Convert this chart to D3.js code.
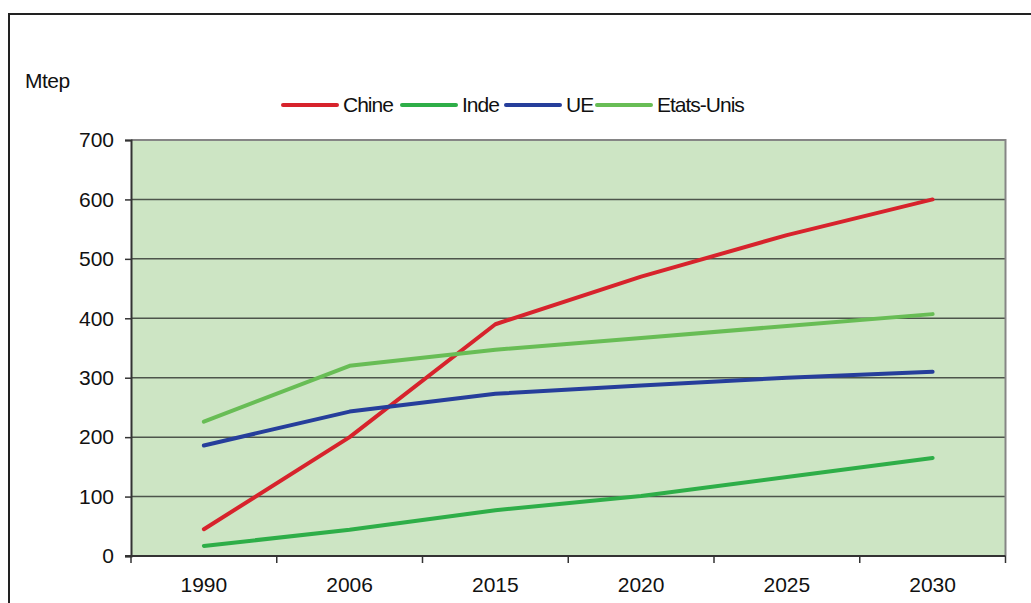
<!DOCTYPE html>
<html>
<head>
<meta charset="utf-8">
<script src="https://cdn.jsdelivr.net/npm/d3@7/dist/d3.min.js"></script>
<style>
  html, body { margin: 0; padding: 0; background: #fff; }
  svg { display: block; font-family: "Liberation Sans", Arial, sans-serif; }
</style>
</head>
<body>
<svg id="chart" width="1031" height="603"></svg>
<script>
const categories = ["1990", "2006", "2015", "2020", "2025", "2030"];
const chine = [45, 200, 390, 470, 540, 600];
const inde = [17, 44, 77, 101, 133, 165];
const ue = [186, 243, 273, 287, 300, 310];
const etatsUnis = [226, 320, 347, 367, 387, 407];
const seriesNames = ["Chine", "Inde", "UE", "Etats-Unis"];
const seriesColors = ["#d7232c", "#2eae48", "#263e9b", "#68bd55"];
const yTicks = [0, 100, 200, 300, 400, 500, 600, 700];
const yLabel = "Mtep";

(function () {
const seriesValues = [chine, inde, ue, etatsUnis];
const series = seriesNames.map((n, i) => ({ name: n, color: seriesColors[i], values: seriesValues[i] }));

const svg = d3.select("#chart");
const pLeft = 131, pRight = 1005.5, pTop = 140, pBottom = 556;
const FS = 21;

// outer frame
svg.append("rect").attr("x", 9).attr("y", 14).attr("width", 1100).attr("height", 700)
  .attr("fill", "none").attr("stroke", "#222").attr("stroke-width", 2);

const x = d3.scaleBand().domain(categories).range([pLeft, pRight]).padding(0);
const y = d3.scaleLinear().domain([0, 700]).range([pBottom, pTop]);

// plot background
svg.append("rect").attr("x", pLeft).attr("y", pTop).attr("width", pRight - pLeft).attr("height", pBottom - pTop)
  .attr("fill", "#cde5c4");

// gridlines
svg.append("g").selectAll("line").data(yTicks.filter(t => t > 0 && t < 700)).join("line")
  .attr("x1", pLeft).attr("x2", pRight)
  .attr("y1", d => y(d)).attr("y2", d => y(d))
  .attr("stroke", "#4d554b").attr("stroke-width", 1.5);

// top & right border
svg.append("path")
  .attr("d", `M${pLeft},${y(700)}H${pRight}V${pBottom}`)
  .attr("fill", "none").attr("stroke", "#858585").attr("stroke-width", 2);

// y axis
const yAxis = d3.axisLeft(y).tickValues(yTicks).tickSize(6).tickPadding(11);
const gy = svg.append("g").attr("transform", `translate(${pLeft},0)`).call(yAxis);
gy.select(".domain").attr("stroke", "#333").attr("stroke-width", 2);
gy.selectAll(".tick line").attr("stroke", "#333").attr("stroke-width", 1.5);
gy.selectAll(".tick text").attr("font-size", FS).attr("fill", "#111")
  .attr("font-family", "Liberation Sans, Arial, sans-serif");

// x axis (labels)
const xAxis = d3.axisBottom(x).tickSize(0).tickPadding(21);
const gx = svg.append("g").attr("transform", `translate(0,${pBottom})`).call(xAxis);
gx.select(".domain").remove();
gx.selectAll(".tick text").attr("font-size", FS).attr("fill", "#111")
  .attr("font-family", "Liberation Sans, Arial, sans-serif");
// x axis line and boundary ticks
svg.append("line").attr("x1", pLeft - 6).attr("x2", pRight).attr("y1", pBottom).attr("y2", pBottom)
  .attr("stroke", "#333").attr("stroke-width", 2);
const bounds = categories.map(c => x(c)).concat([x(categories[categories.length - 1]) + x.bandwidth()]);
svg.append("g").selectAll("line").data(bounds).join("line")
  .attr("x1", d => d).attr("x2", d => d).attr("y1", pBottom).attr("y2", pBottom + 7)
  .attr("stroke", "#333").attr("stroke-width", 1.5);

// lines
const line = d3.line()
  .x((d, i) => x(categories[i]) + x.bandwidth() / 2)
  .y(d => y(d));
svg.append("g").selectAll("path").data(series).join("path")
  .attr("d", d => line(d.values))
  .attr("fill", "none").attr("stroke", d => d.color).attr("stroke-width", 4)
  .attr("stroke-linecap", "round").attr("stroke-linejoin", "round");

// y label
svg.append("text").attr("x", 25).attr("y", 88).attr("font-size", FS).attr("fill", "#111")
  .attr("letter-spacing", -0.5).text(yLabel);

// legend
const legendX = [283, 402, 506, 597];
const lg = svg.append("g");
series.forEach((s, i) => {
  lg.append("line").attr("x1", legendX[i]).attr("x2", legendX[i] + 54)
    .attr("y1", 105).attr("y2", 105).attr("stroke", s.color).attr("stroke-width", 4)
    .attr("stroke-linecap", "round");
  lg.append("text").attr("x", legendX[i] + 60).attr("y", 111.5).attr("font-size", FS)
    .attr("fill", "#111").attr("letter-spacing", -1).text(s.name);
});
})();
</script>
</body>
</html>
